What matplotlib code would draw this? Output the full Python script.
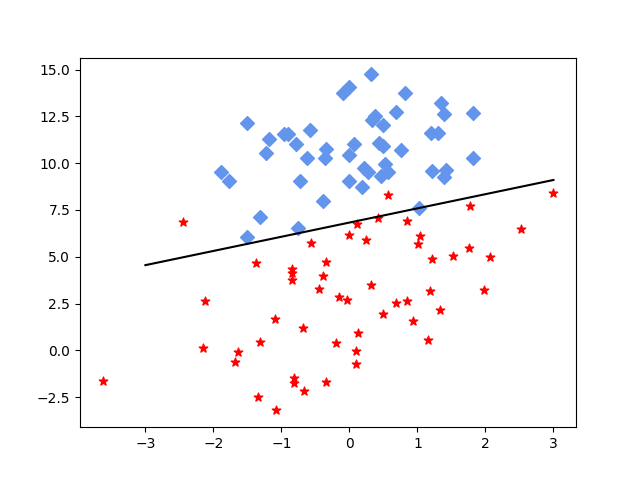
import matplotlib
matplotlib.use("Agg")
import matplotlib.pyplot as plt

# class +1 (blue diamonds)
pos_x = [-1.51, -1.18, -0.96, -0.90, -0.58, -1.22, -0.785, -0.62, -0.35, -0.36,
         -1.89, -1.77, -0.73, -0.39, -1.32, -0.75, -1.50,
         0.32, -0.005, -0.10, 0.82, 1.35, 1.39, 1.82, 0.68, 0.33, 0.38, 0.49,
         1.20, 1.30, 0.07, -0.01, 0.43, 0.50, 0.76, 1.82, 0.21, 0.28, 0.53,
         0.57, 0.47, 1.22, 1.42, 1.39, 0.0, 0.19, 1.02]
pos_y = [12.12, 11.27, 11.55, 11.55, 11.76, 10.53, 11.0, 10.30, 10.73, 10.30,
         9.50, 9.07, 9.07, 8.0, 7.10, 6.56, 6.04,
         14.74, 14.05, 13.76, 13.73, 13.19, 12.60, 12.66, 12.71, 12.30, 12.53, 12.03,
         11.59, 11.59, 11.0, 10.43, 11.07, 10.92, 10.68, 10.25, 9.75, 9.53, 9.93,
         9.50, 9.30, 9.57, 9.63, 9.27, 9.04, 8.70, 7.58]

# class -1 (red stars)
neg_x = [-2.44, -3.63, -0.56, -1.38, -0.84, -0.84, -0.84, -0.35, -0.39, -0.45,
         -2.13, -1.09, -0.68, -1.32, -2.16, -1.64, -1.68, -0.81, -0.82, -0.67,
         -0.34, -1.34, -1.08,
         0.56, 3.0, 1.78, 0.11, 0.42, 0.85, -0.01, 0.24, 1.04, 1.01, 2.53, 1.76,
         1.21, 1.52, 2.06, 0.32, -0.15, -0.03, 0.84, 0.68, 1.18, 1.98, 1.33,
         0.50, 0.94, 0.13, -0.20, 0.09, 1.15, 0.09]
neg_y = [6.84, -1.66, 5.74, 4.67, 4.35, 4.13, 3.78, 4.71, 3.96, 3.28,
         2.62, 1.66, 1.18, 0.43, 0.11, -0.07, -0.61, -1.48, -1.77, -2.19,
         -1.71, -2.48, -3.21,
         8.29, 8.40, 7.70, 6.77, 7.06, 6.90, 6.15, 5.88, 6.10, 5.70, 6.47, 5.45,
         4.90, 5.03, 4.96, 3.48, 2.85, 2.67, 2.62, 2.51, 3.16, 3.21, 2.14,
         1.93, 1.55, 0.91, 0.41, -0.02, 0.53, -0.75]

# decision line end points
line_x = [-3, 3]
line_y = [4.55, 9.10]

plt.figure(figsize=(6.4, 4.8), dpi=100)
plt.scatter(pos_x, pos_y, marker="D", color="cornflowerblue", s=50)
plt.scatter(neg_x, neg_y, marker="*", color="red", s=40)
plt.plot(line_x, line_y, color="black")
plt.savefig("out.png")
